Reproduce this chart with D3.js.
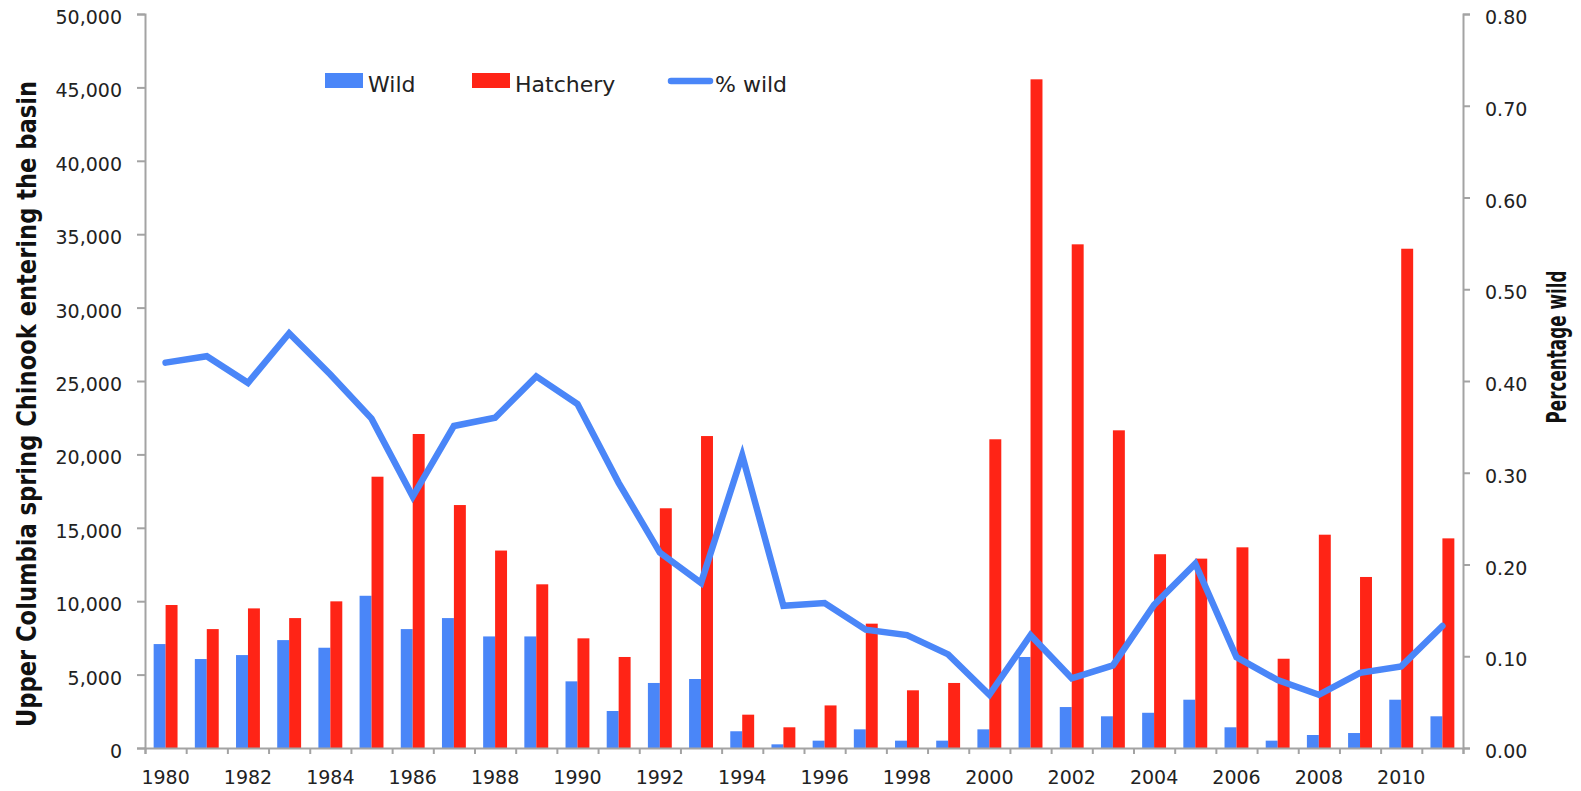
<!DOCTYPE html>
<html>
<head>
<meta charset="utf-8">
<script src="https://cdn.jsdelivr.net/npm/d3@7"></script>
<style>
  html, body { margin: 0; padding: 0; background: #fff; }
  svg { display: block; }
  .tick text { font-family: "DejaVu Sans", Verdana, sans-serif; font-size: 19px; fill: #222; }
  .axis path, .axis line { stroke: #a3a3a3; stroke-width: 2px; }
  .legend text { font-family: "DejaVu Sans", Verdana, sans-serif; font-size: 22px; fill: #222; }
  .axis-title { font-family: "Liberation Sans Narrow", "DejaVu Sans Condensed", sans-serif; font-weight: bold; fill: #111; }
</style>
</head>
<body>
<div id="chart"></div>
<script>
const years = d3.range(1980, 2012);

const wild = [7080, 6060, 6330, 7350, 6830, 10370, 8100, 8850, 7600, 7600,
              4540, 2520, 4430, 4700, 1140, 250, 500, 1270, 500, 500,
              1270, 6200, 2790, 2160, 2400, 3290, 1410, 500, 885, 1020,
              3290, 2160];

const hatchery = [9740, 8100, 9510, 8850, 9990, 18480, 21390, 16550, 13450, 11150,
                  7470, 6200, 16330, 21250, 2270, 1410, 2900, 8470, 3930, 4430,
                  21030, 45550, 34310, 21640, 13200, 12900, 13670, 6080, 14530, 11650,
                  34010, 14280];

const pctWild = [0.420, 0.427, 0.398, 0.452, 0.407, 0.359, 0.274, 0.351, 0.360, 0.405,
                 0.375, 0.289, 0.213, 0.180, 0.319, 0.155, 0.158, 0.129, 0.123, 0.102,
                 0.058, 0.123, 0.076, 0.090, 0.156, 0.201, 0.099, 0.074, 0.058, 0.082,
                 0.089, 0.133];

const leftTicks = d3.range(0, 50001, 5000);
const rightTicks = d3.range(0, 0.81, 0.1);
const yearLabels = years.filter(y => y % 2 === 0);

const series = ["wild", "hatchery"];
const seriesNames = { wild: "Wild", hatchery: "Hatchery" };
const colors = { wild: "#4a86f8", hatchery: "#ff2416", line: "#4a86f8" };

const width = 1581, height = 791;
const margin = { top: 14, right: 118, bottom: 43, left: 145 };

const svg = d3.select("#chart").append("svg")
    .attr("width", width)
    .attr("height", height);

const x = d3.scaleBand()
    .domain(years)
    .range([margin.left, width - margin.right])
    .paddingInner(0.42)
    .paddingOuter(0.21);

const xSub = d3.scaleBand()
    .domain(series)
    .range([0, x.bandwidth()]);

const yLeft = d3.scaleLinear()
    .domain([0, 50000])
    .range([height - margin.bottom, margin.top]);

const yRight = d3.scaleLinear()
    .domain([0, 0.8])
    .range([height - margin.bottom, margin.top]);

// boundaries between categories, for the bottom tick marks
const xEdge = d3.scaleLinear()
    .domain([0, years.length])
    .range([margin.left, width - margin.right]);

const rows = years.map((yr, i) => ({ year: yr, wild: wild[i], hatchery: hatchery[i], pct: pctWild[i] }));

// bars
const groups = svg.append("g")
    .selectAll("g")
    .data(rows)
    .join("g")
    .attr("transform", d => `translate(${x(d.year)},0)`);

groups.selectAll("rect")
    .data(d => series.map(k => ({ key: k, value: d[k] })))
    .join("rect")
    .attr("x", d => xSub(d.key))
    .attr("width", xSub.bandwidth())
    .attr("y", d => yLeft(d.value))
    .attr("height", d => yLeft(0) - yLeft(d.value))
    .attr("fill", d => colors[d.key]);

// axes
const fmt = d3.format(",");

svg.append("g")
    .attr("class", "axis")
    .attr("transform", `translate(${margin.left},0)`)
    .call(d3.axisLeft(yLeft).tickValues(leftTicks).tickFormat(fmt).tickSize(8).tickPadding(15))
    .call(g => g.selectAll(".tick text").attr("dy", "0.5em"));

svg.append("g")
    .attr("class", "axis")
    .attr("transform", `translate(${width - margin.right},0)`)
    .call(d3.axisRight(yRight).tickValues(rightTicks).tickFormat(d3.format(".2f")).tickSize(7).tickPadding(15))
    .call(g => g.selectAll(".tick text").attr("dy", "0.5em"));

svg.append("g")
    .attr("class", "axis")
    .attr("transform", `translate(0,${height - margin.bottom})`)
    .call(d3.axisBottom(xEdge).tickValues(d3.range(years.length + 1)).tickFormat("").tickSize(6));

svg.append("g")
    .attr("class", "axis labels")
    .attr("transform", `translate(0,${height - margin.bottom})`)
    .call(d3.axisBottom(x).tickValues(yearLabels).tickSize(0).tickPadding(23))
    .call(g => g.select(".domain").remove());

// % wild line
const line = d3.line()
    .x(d => x(d.year) + x.bandwidth() / 2)
    .y(d => yRight(d.pct));

svg.append("path")
    .datum(rows)
    .attr("fill", "none")
    .attr("stroke", colors.line)
    .attr("stroke-width", 6.5)
    .attr("stroke-linejoin", "miter")
    .attr("stroke-linecap", "round")
    .attr("d", line);

// axis titles
svg.append("text")
    .attr("class", "axis-title")
    .attr("transform", `translate(36,404) rotate(-90)`)
    .attr("text-anchor", "middle")
    .attr("font-size", 27)
    .attr("textLength", 646)
    .attr("lengthAdjust", "spacingAndGlyphs")
    .text("Upper Columbia spring Chinook entering the basin");

svg.append("text")
    .attr("class", "axis-title")
    .attr("transform", `translate(1566,347) rotate(-90)`)
    .attr("text-anchor", "middle")
    .attr("font-size", 27)
    .attr("textLength", 153)
    .attr("lengthAdjust", "spacingAndGlyphs")
    .text("Percentage wild");

// legend
const legend = svg.append("g").attr("class", "legend");
const legendItems = [
    { key: "wild", type: "rect", x: 325 },
    { key: "hatchery", type: "rect", x: 472 },
    { key: "line", type: "line", x: 668, label: "% wild" }
];

legendItems.forEach(it => {
    if (it.type === "rect") {
        legend.append("rect")
            .attr("x", it.x).attr("y", 73)
            .attr("width", 38).attr("height", 15)
            .attr("fill", colors[it.key]);
        legend.append("text")
            .attr("x", it.x + 43).attr("y", 92)
            .text(seriesNames[it.key]);
    } else {
        legend.append("line")
            .attr("x1", it.x + 3).attr("x2", it.x + 42)
            .attr("y1", 81).attr("y2", 81)
            .attr("stroke", colors.line)
            .attr("stroke-width", 6.5)
            .attr("stroke-linecap", "round");
        legend.append("text")
            .attr("x", it.x + 47).attr("y", 92)
            .text(it.label);
    }
});
</script>
</body>
</html>
